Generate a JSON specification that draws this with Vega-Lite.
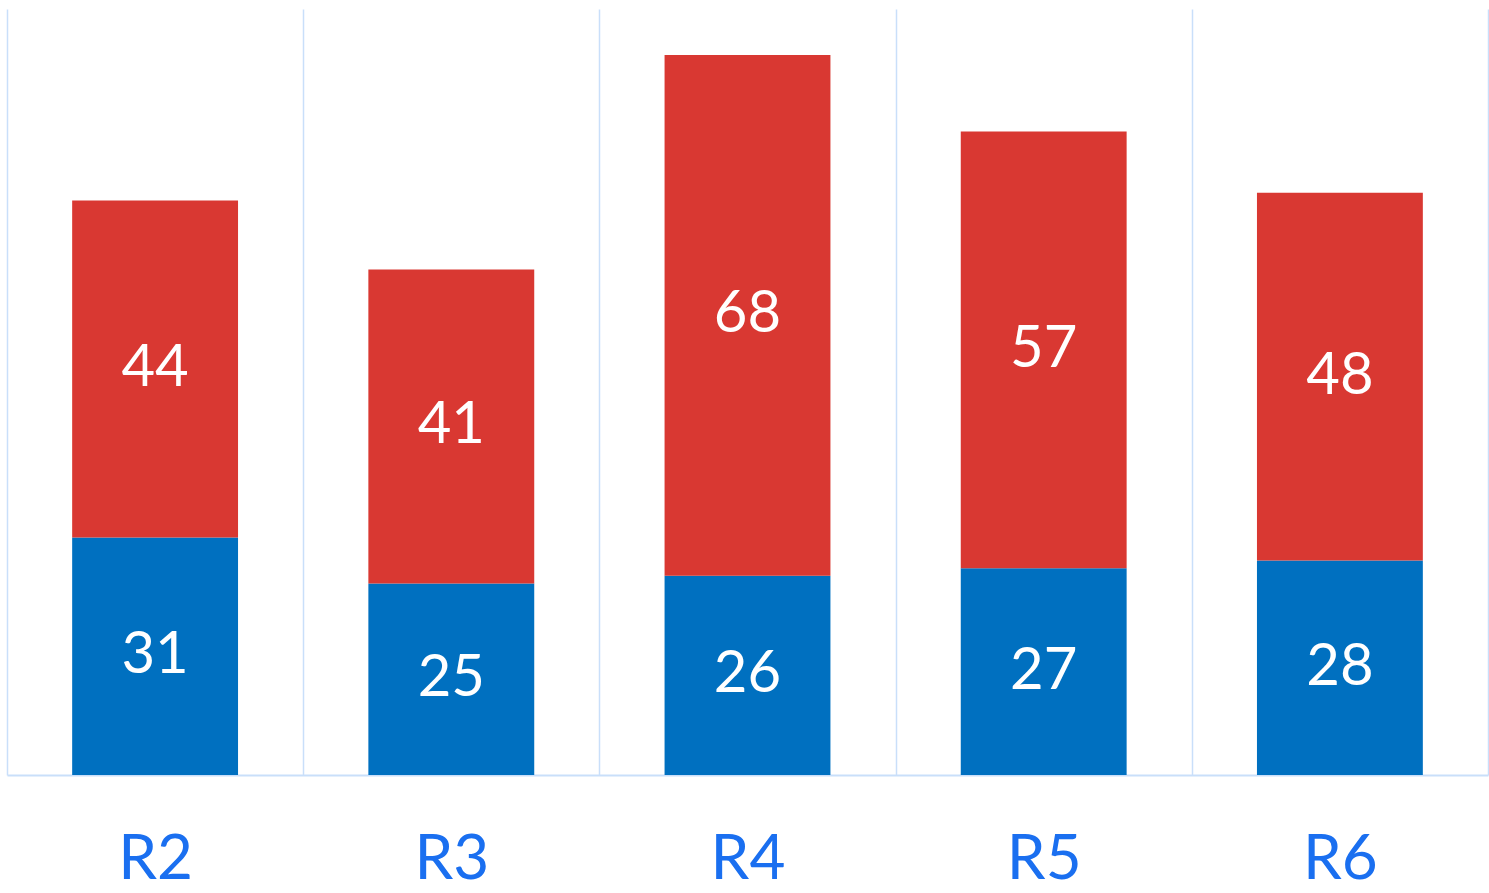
{
  "$schema": "https://vega.github.io/schema/vega-lite/v6.json",
  "width": 1481,
  "height": 766,
  "autosize": {"type": "none"},
  "padding": {"left": 7, "top": 9, "right": 1, "bottom": 118},
  "background": "white",
  "config": {"view": {"stroke": null}},
  "data": {
    "values": [
      {"round": "R2", "series": "s1", "value": 31, "k": 1},
      {"round": "R2", "series": "s2", "value": 44, "k": 2},
      {"round": "R3", "series": "s1", "value": 25, "k": 1},
      {"round": "R3", "series": "s2", "value": 41, "k": 2},
      {"round": "R4", "series": "s1", "value": 26, "k": 1},
      {"round": "R4", "series": "s2", "value": 68, "k": 2},
      {"round": "R5", "series": "s1", "value": 27, "k": 1},
      {"round": "R5", "series": "s2", "value": 57, "k": 2},
      {"round": "R6", "series": "s1", "value": 28, "k": 1},
      {"round": "R6", "series": "s2", "value": 48, "k": 2}
    ]
  },
  "encoding": {
    "x": {
      "field": "round",
      "type": "nominal",
      "sort": null,
      "scale": {"paddingInner": 0, "paddingOuter": 0},
      "axis": {
        "title": null,
        "labelAngle": 0,
        "labelFont": "Lato",
        "labelFontSize": 62,
        "labelColor": "#1a6ff0",
        "labelPadding": 54,
        "ticks": false,
        "grid": true,
        "gridColor": "#c9dffa",
        "gridWidth": 1.5,
        "domainColor": "#c9dffa",
        "domainWidth": 2,
        "tickBand": "extent"
      }
    },
    "y": {
      "field": "value",
      "type": "quantitative",
      "stack": "zero",
      "scale": {"domain": [0, 100], "nice": false},
      "axis": null
    },
    "order": {"field": "k", "type": "quantitative"}
  },
  "layer": [
    {
      "mark": {"type": "bar", "width": {"band": 0.56}},
      "encoding": {
        "color": {
          "field": "series",
          "type": "nominal",
          "scale": {"domain": ["s1", "s2"], "range": ["#0070c0", "#d93832"]},
          "legend": null
        }
      }
    },
    {
      "mark": {"type": "text", "font": "Lato", "fontSize": 58, "color": "white", "baseline": "middle", "align": "center"},
      "encoding": {
        "y": {"field": "value", "type": "quantitative", "stack": "zero", "bandPosition": 0.5},
        "text": {"field": "value", "type": "quantitative"}
      }
    }
  ]
}
